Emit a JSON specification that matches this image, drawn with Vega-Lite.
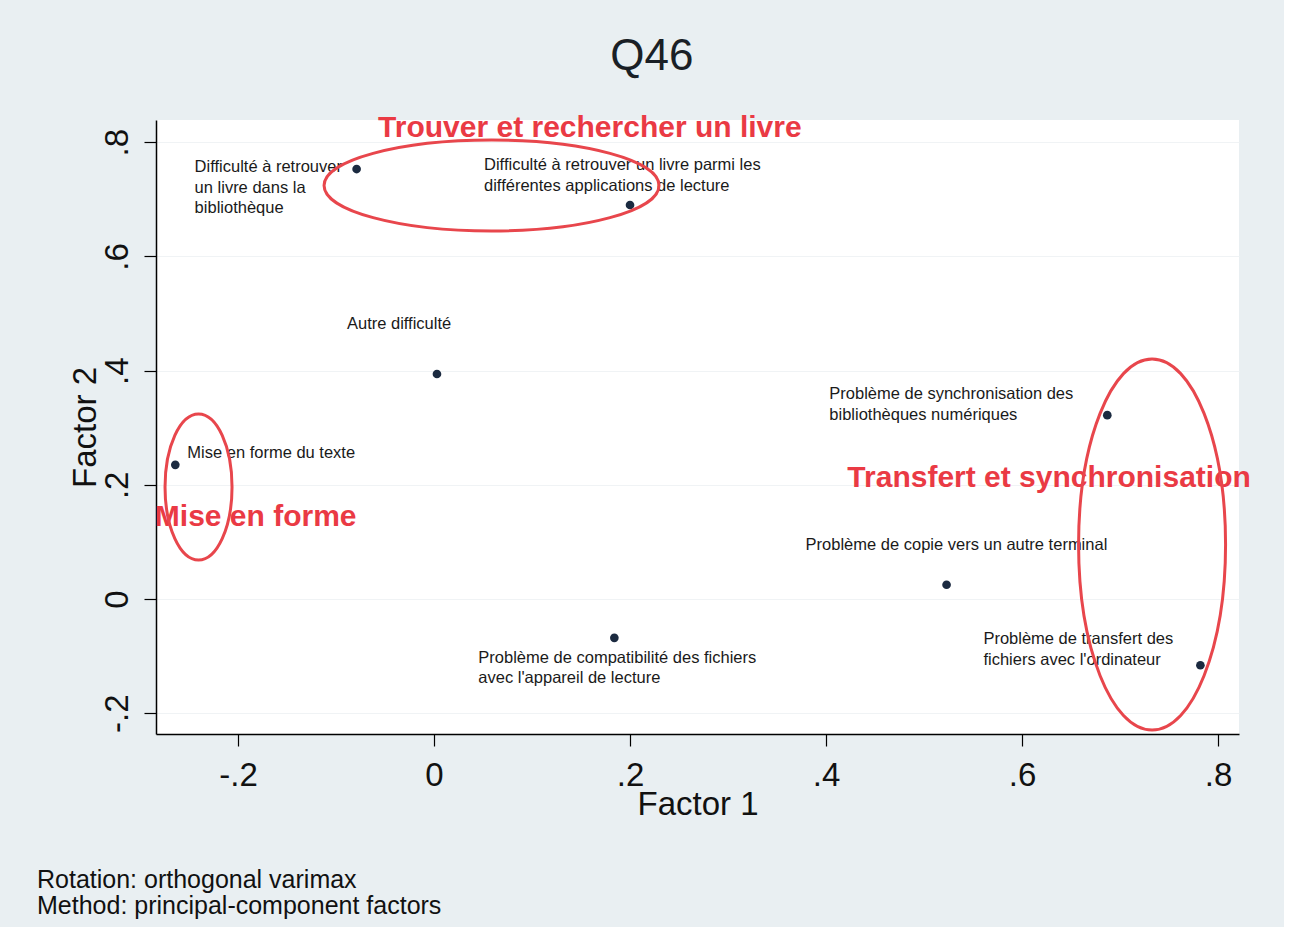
{
  "$schema": "https://vega.github.io/schema/vega-lite/v6.json",
  "background": "#e9eff2",
  "padding": {"left": 37, "top": 34, "right": 33, "bottom": 8},
  "title": {
    "text": ["Rotation: orthogonal varimax", "Method: principal-component factors"],
    "orient": "bottom",
    "anchor": "start",
    "frame": "bounds",
    "font": "Liberation Sans",
    "fontSize": 25,
    "fontWeight": "normal",
    "color": "#111111",
    "lineHeight": 26,
    "offset": 47,
    "dx": -32
  },
  "config": {
    "view": {"stroke": null, "fill": "white"},
    "font": "Liberation Sans",
    "axis": {
      "domainColor": "#000000",
      "domainWidth": 1.5,
      "tickColor": "#000000",
      "tickWidth": 1.2,
      "tickSize": 12,
      "labelFont": "Liberation Sans",
      "labelFontSize": 33,
      "labelColor": "#111111",
      "labelPadding": 13,
      "titleFont": "Liberation Sans",
      "titleFontSize": 33,
      "titleFontWeight": "normal",
      "titleColor": "#111111"
    }
  },
  "datasets": {
    "loadings": [
      {"variable": "Difficulté à retrouver\nun livre dans la\nbibliothèque", "key": "d1", "f1": -0.079, "f2": 0.753},
      {"variable": "Difficulté à retrouver un livre parmi les\ndifférentes applications de lecture", "key": "d2", "f1": 0.200, "f2": 0.690},
      {"variable": "Autre difficulté", "key": "d3", "f1": 0.003, "f2": 0.394},
      {"variable": "Mise en forme du texte", "key": "d4", "f1": -0.264, "f2": 0.235},
      {"variable": "Problème de synchronisation des\nbibliothèques numériques", "key": "d5", "f1": 0.687, "f2": 0.322},
      {"variable": "Problème de copie vers un autre terminal", "key": "d6", "f1": 0.523, "f2": 0.025},
      {"variable": "Problème de transfert des\nfichiers avec l'ordinateur", "key": "d7", "f1": 0.782, "f2": -0.116},
      {"variable": "Problème de compatibilité des fichiers\navec l'appareil de lecture", "key": "d8", "f1": 0.184, "f2": -0.068}
    ],
    "groupLabels": [
      {"group": "Trouver et rechercher un livre", "f1": 0.159, "f2": 0.825},
      {"group": "Mise en forme", "f1": -0.182, "f2": 0.1436},
      {"group": "Transfert et synchronisation", "f1": 0.6276, "f2": 0.2119}
    ],
    "groupEllipses": [
      {"group": "Trouver et rechercher un livre", "f1": 0.0587, "f2": 0.7242},
      {"group": "Mise en forme", "f1": -0.2403, "f2": 0.1961},
      {"group": "Transfert et synchronisation", "f1": 0.7327, "f2": 0.0954}
    ]
  },
  "vconcat": [
    {
      "title": {
        "text": "Q46",
        "anchor": "middle",
        "frame": "bounds",
        "font": "Liberation Sans",
        "fontSize": 44,
        "fontWeight": "normal",
        "color": "#1a1f26",
        "baseline": "alphabetic",
        "offset": -1,
        "dx": -8
      },
      "width": 1083,
      "height": 614,
      "encoding": {
        "x": {
          "field": "f1",
          "type": "quantitative",
          "scale": {"domain": [-0.2837, 0.8214], "nice": false, "zero": false},
          "axis": {
            "title": "Factor 1",
            "values": [-0.2, 0, 0.2, 0.4, 0.6, 0.8],
            "labelExpr": "datum.value == 0 ? '0' : (datum.value < 0 ? '-' : '') + '.' + format(abs(datum.value) * 10, '.0f')",
            "grid": false,
            "titlePadding": -4
          }
        },
        "y": {
          "field": "f2",
          "type": "quantitative",
          "scale": {"domain": [-0.2364, 0.8389], "nice": false, "zero": false},
          "axis": {
            "title": "Factor 2",
            "values": [-0.2, 0, 0.2, 0.4, 0.6, 0.8],
            "labelExpr": "datum.value == 0 ? '0' : (datum.value < 0 ? '-' : '') + '.' + format(abs(datum.value) * 10, '.0f')",
            "labelAngle": -90,
            "labelAlign": "center",
            "labelBaseline": "bottom",
            "labelPadding": 10,
            "grid": true,
            "gridColor": "#f0f3f5",
            "gridWidth": 1,
            "titlePadding": -1
          }
        }
      },
      "layer": [
        {
          "data": {"name": "loadings"},
          "mark": {"type": "point", "filled": true, "size": 75, "color": "#1b2a40", "opacity": 1}
        },
        {
          "data": {"name": "loadings"},
          "transform": [{"filter": "datum.key == 'd1'"}],
          "mark": {"type": "text", "align": "left", "baseline": "alphabetic", "fontSize": 16.5, "lineHeight": 20.5, "lineBreak": "\n", "color": "#1a1a1a", "dx": -162, "dy": 3},
          "encoding": {"text": {"field": "variable"}}
        },
        {
          "data": {"name": "loadings"},
          "transform": [{"filter": "datum.key == 'd2'"}],
          "mark": {"type": "text", "align": "left", "baseline": "alphabetic", "fontSize": 16.5, "lineHeight": 20.5, "lineBreak": "\n", "color": "#1a1a1a", "dx": -146, "dy": -35},
          "encoding": {"text": {"field": "variable"}}
        },
        {
          "data": {"name": "loadings"},
          "transform": [{"filter": "datum.key == 'd3'"}],
          "mark": {"type": "text", "align": "left", "baseline": "alphabetic", "fontSize": 16.5, "lineHeight": 20.5, "lineBreak": "\n", "color": "#1a1a1a", "dx": -90, "dy": -45},
          "encoding": {"text": {"field": "variable"}}
        },
        {
          "data": {"name": "loadings"},
          "transform": [{"filter": "datum.key == 'd4'"}],
          "mark": {"type": "text", "align": "left", "baseline": "alphabetic", "fontSize": 16.5, "lineHeight": 20.5, "lineBreak": "\n", "color": "#1a1a1a", "dx": 12, "dy": -7},
          "encoding": {"text": {"field": "variable"}}
        },
        {
          "data": {"name": "loadings"},
          "transform": [{"filter": "datum.key == 'd5'"}],
          "mark": {"type": "text", "align": "left", "baseline": "alphabetic", "fontSize": 16.5, "lineHeight": 20.5, "lineBreak": "\n", "color": "#1a1a1a", "dx": -278, "dy": -16},
          "encoding": {"text": {"field": "variable"}}
        },
        {
          "data": {"name": "loadings"},
          "transform": [{"filter": "datum.key == 'd6'"}],
          "mark": {"type": "text", "align": "left", "baseline": "alphabetic", "fontSize": 16.5, "lineHeight": 20.5, "lineBreak": "\n", "color": "#1a1a1a", "dx": -141, "dy": -35},
          "encoding": {"text": {"field": "variable"}}
        },
        {
          "data": {"name": "loadings"},
          "transform": [{"filter": "datum.key == 'd7'"}],
          "mark": {"type": "text", "align": "left", "baseline": "alphabetic", "fontSize": 16.5, "lineHeight": 20.5, "lineBreak": "\n", "color": "#1a1a1a", "dx": -217, "dy": -21},
          "encoding": {"text": {"field": "variable"}}
        },
        {
          "data": {"name": "loadings"},
          "transform": [{"filter": "datum.key == 'd8'"}],
          "mark": {"type": "text", "align": "left", "baseline": "alphabetic", "fontSize": 16.5, "lineHeight": 20.5, "lineBreak": "\n", "color": "#1a1a1a", "dx": -136, "dy": 25},
          "encoding": {"text": {"field": "variable"}}
        },
        {
          "data": {"name": "groupLabels"},
          "mark": {"type": "text", "align": "center", "baseline": "middle", "fontSize": 30, "fontWeight": "bold", "color": "#ea3a44"},
          "encoding": {"text": {"field": "group"}}
        },
        {
          "data": {"name": "groupEllipses"},
          "transform": [{"filter": "datum.group == 'Trouver et rechercher un livre'"}],
          "mark": {"type": "point", "filled": false, "shape": "M -1 0 A 1 0.2716 0 1 1 1 0 A 1 0.2716 0 1 1 -1 0 Z", "size": 112225, "color": "#e8464c", "strokeWidth": 3, "opacity": 1}
        },
        {
          "data": {"name": "groupEllipses"},
          "transform": [{"filter": "datum.group == 'Mise en forme'"}],
          "mark": {"type": "point", "filled": false, "shape": "M 0 -1 A 0.4589 1 0 1 1 0 1 A 0.4589 1 0 1 1 0 -1 Z", "size": 21316, "color": "#e8464c", "strokeWidth": 3, "opacity": 1}
        },
        {
          "data": {"name": "groupEllipses"},
          "transform": [{"filter": "datum.group == 'Transfert et synchronisation'"}],
          "mark": {"type": "point", "filled": false, "shape": "M 0 -1 A 0.3962 1 0 1 1 0 1 A 0.3962 1 0 1 1 0 -1 Z", "size": 137641, "color": "#e8464c", "strokeWidth": 3, "opacity": 1}
        }
      ]
    }
  ]
}
